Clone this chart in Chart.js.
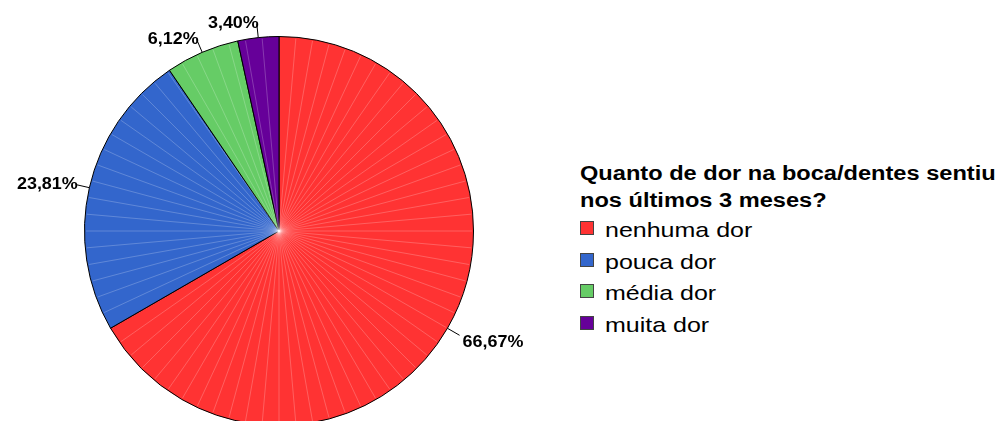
<!DOCTYPE html>
<html>
<head>
<meta charset="utf-8">
<script src="https://cdn.jsdelivr.net/npm/chart.js@4/dist/chart.umd.min.js"></script>
<style>
    html, body { margin: 0; padding: 0; background: #fff; }
    body { width: 1000px; height: 421px; overflow: hidden; position: relative; font-family: 'Liberation Sans', Arial, sans-serif; }
    #chartBox { position: absolute; left: 0; top: 0; width: 560px; height: 432px; }
    #legend { position: absolute; left: 580px; top: 160px; color: #000; }
    #legend .title { font-weight: bold; font-size: 20px; line-height: 27px; white-space: nowrap; transform-origin: left center; transform: scaleX(1.18); }
    #legend .item { position: relative; height: 31.5px; font-size: 21px; line-height: 31.5px; white-space: nowrap; }
    #legend .swatch { position: absolute; left: 0; top: 7px; width: 12px; height: 12px; border: 1px solid #444; }
    #legend .label { position: absolute; left: 25px; top: 0; transform-origin: left center; transform: scaleX(1.19); }
</style>
</head>
<body>
<div id="chartBox"><canvas id="pieChart"></canvas></div>
<div id="legend"></div>
<script>
// Données
const legendTitle = ['Quanto de dor na boca/dentes sentiu', 'nos últimos 3 meses?'];
const categories = ['nenhuma dor', 'pouca dor', 'média dor', 'muita dor'];
const percents = [66.67, 23.81, 6.12, 3.40];
const sliceColors = ['#FF3333', '#3366CC', '#66CC66', '#660099'];

function formatPct(v) {
    return v.toFixed(2).replace('.', ',') + '%';
}

// Étiquettes avec traits de rappel
const pctLabels = {
    id: 'pctLabels',
    afterDatasetsDraw(chart) {
        const ctx = chart.ctx;
        const meta = chart.getDatasetMeta(0);
        ctx.save();
        ctx.font = 'bold 16px "Liberation Sans", Arial, sans-serif';
        ctx.fillStyle = '#000';
        ctx.strokeStyle = '#000';
        ctx.lineWidth = 1;
        meta.data.forEach(function (arc, i) {
            const { x, y, startAngle, endAngle, outerRadius } = arc.getProps(['x', 'y', 'startAngle', 'endAngle', 'outerRadius'], true);
            const mid = (startAngle + endAngle) / 2;
            const cos = Math.cos(mid), sin = Math.sin(mid);
            const p0 = { x: x + cos * outerRadius, y: y + sin * outerRadius };
            const p1 = { x: x + cos * (outerRadius + 14), y: y + sin * (outerRadius + 14) };
            ctx.beginPath();
            ctx.moveTo(p0.x, p0.y);
            ctx.lineTo(p1.x, p1.y);
            ctx.stroke();

            const text = formatPct(percents[i]);
            const w = ctx.measureText(text).width * 1.12;
            const tx = cos > 0 ? p1.x + 3 : p1.x + 2 - w;
            const ty = p1.y + (sin > 0 ? 3 + 8 * sin : 0);
            ctx.save();
            ctx.translate(tx, ty);
            ctx.scale(1.12, 1);
            ctx.textAlign = 'left';
            ctx.textBaseline = 'middle';
            ctx.fillText(text, 0, 0);
            ctx.restore();
        });
        ctx.restore();
    }
};

// Rayons blancs discrets (rendu SPSS)
const spokes = {
    id: 'spokes',
    afterDatasetsDraw(chart) {
        const ctx = chart.ctx;
        const meta = chart.getDatasetMeta(0);
        const step = Math.PI * 2 / 72;
        ctx.save();
        ctx.strokeStyle = 'rgba(255, 255, 255, 0.22)';
        ctx.lineWidth = 1;
        meta.data.forEach(function (arc) {
            const { x, y, startAngle, endAngle, outerRadius } = arc.getProps(['x', 'y', 'startAngle', 'endAngle', 'outerRadius'], true);
            let a = Math.ceil((startAngle + Math.PI / 2) / step) * step - Math.PI / 2;
            for (; a < endAngle - 0.01; a += step) {
                if (a - startAngle < 0.01) continue;
                ctx.beginPath();
                ctx.moveTo(x, y);
                ctx.lineTo(x + Math.cos(a) * (outerRadius - 1.5), y + Math.sin(a) * (outerRadius - 1.5));
                ctx.stroke();
            }
        });
        ctx.restore();
    }
};

function buildLegend() {
    const box = document.getElementById('legend');
    legendTitle.forEach(function (line) {
        const d = document.createElement('div');
        d.className = 'title';
        d.textContent = line;
        box.appendChild(d);
    });
    categories.forEach(function (name, i) {
        const item = document.createElement('div');
        item.className = 'item';
        const sw = document.createElement('span');
        sw.className = 'swatch';
        sw.style.background = sliceColors[i];
        const lb = document.createElement('span');
        lb.className = 'label';
        lb.textContent = name;
        item.appendChild(sw);
        item.appendChild(lb);
        box.appendChild(item);
    });
}

function initPie() {
    new Chart(document.getElementById('pieChart'), {
        type: 'pie',
        data: {
            labels: categories,
            datasets: [{
                data: percents,
                backgroundColor: sliceColors,
                borderColor: '#000',
                borderWidth: 1
            }]
        },
        options: {
            responsive: true,
            maintainAspectRatio: false,
            animation: false,
            events: [],
            layout: { padding: { left: 84, right: 86, top: 36, bottom: 6 } },
            plugins: {
                legend: { display: false },
                tooltip: { enabled: false }
            }
        },
        plugins: [spokes, pctLabels]
    });
}

buildLegend();
initPie();
</script>
</body>
</html>
